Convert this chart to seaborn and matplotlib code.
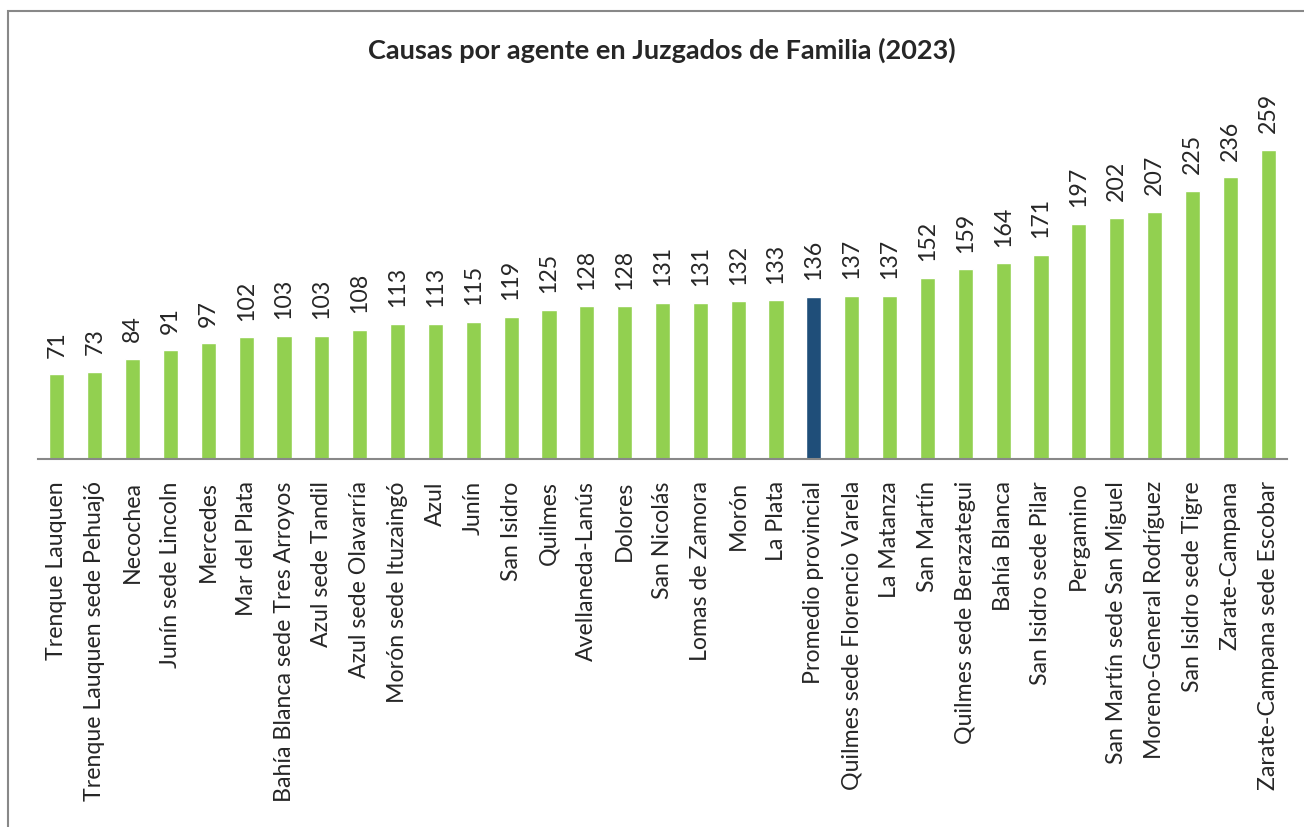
import pandas as pd
import seaborn as sns
import matplotlib.pyplot as plt
from matplotlib.patches import Rectangle

# datos
juzgados = ["Trenque Lauquen", "Trenque Lauquen sede Pehuajó", "Necochea", "Junín sede Lincoln",
            "Mercedes", "Mar del Plata", "Bahía Blanca sede Tres Arroyos", "Azul sede Tandil",
            "Azul sede Olavarría", "Morón sede Ituzaingó", "Azul", "Junín", "San Isidro", "Quilmes",
            "Avellaneda-Lanús", "Dolores", "San Nicolás", "Lomas de Zamora", "Morón", "La Plata",
            "Promedio provincial", "Quilmes sede Florencio Varela", "La Matanza", "San Martín",
            "Quilmes sede Berazategui", "Bahía Blanca", "San Isidro sede Pilar", "Pergamino",
            "San Martín sede San Miguel", "Moreno-General Rodríguez", "San Isidro sede Tigre",
            "Zarate-Campana", "Zarate-Campana sede Escobar"]
causas = [71, 73, 84, 91, 97, 102, 103, 103, 108, 113, 113, 115, 119, 125, 128, 128, 131, 131,
          132, 133, 136, 137, 137, 152, 159, 164, 171, 197, 202, 207, 225, 236, 259]
destacado = "Promedio provincial"

df = pd.DataFrame({'juzgado': juzgados, 'causas': causas})

sns.set_style('white')
plt.rcParams['font.family'] = ['Lato', 'DejaVu Sans']

W, H = 1304, 827
fig = plt.figure(figsize=(W / 100, H / 100), dpi=100)

# marco del grafico (recortado a derecha y abajo)
fig.patches.append(Rectangle((8 / W, -0.1), 1.2, 1.1 - 11 / H, transform=fig.transFigure,
                             fill=False, edgecolor='#888888', linewidth=1.5))

ax = fig.add_axes([38 / W, 1 - 459 / H, (1287 - 38) / W, (459 - 101) / H])

paleta = {j: ('#1F4E79' if j == destacado else '#92D050') for j in juzgados}
sns.barplot(data=df, x='juzgado', y='causas', hue='juzgado', palette=paleta,
            legend=False, width=0.4, saturation=1, ax=ax)

ax.set_ylim(0, 300)
ax.set_xlim(-0.5, len(juzgados) - 0.5)
ax.set_xlabel('')
ax.set_ylabel('')
ax.set_yticks([])
ax.tick_params(axis='x', length=0, pad=16, labelsize=16.7)
plt.setp(ax.get_xticklabels(), rotation=90, ha='center', va='top')

for s in ['top', 'right', 'left']:
    ax.spines[s].set_visible(False)
ax.spines['bottom'].set_color('#888888')
ax.spines['bottom'].set_linewidth(1.5)

# etiquetas de valor
for i, v in enumerate(causas):
    ax.annotate(str(v), (i, v), xytext=(0, 12), textcoords='offset points',
                rotation=90, ha='center', va='bottom', fontsize=16.7)

fig.text(662 / W, 1 - 50 / H, 'Causas por agente en Juzgados de Familia (2023)',
         ha='center', va='center', fontsize=19.5, fontweight='bold')

fig.savefig('out.png', dpi=100)
